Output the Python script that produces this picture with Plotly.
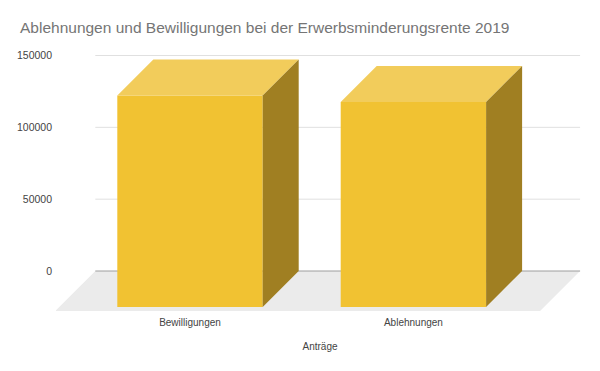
import plotly.graph_objects as go

# ---------------- data ----------------
categories = ["Bewilligungen", "Ablehnungen"]
values = [147300, 142700]
y_tick_values = [0, 50000, 100000, 150000]
y_tick_labels = ["0", "50000", "100000", "150000"]
x_axis_title = "Anträge"
chart_title = "Ablehnungen und Bewilligungen bei der Erwerbsminderungsrente 2019"

# ---------------- layout / style constants (pixels) ----------------
W, H = 600, 371
OFF = 8                                      # page body margin
PL, PR, PT, PB = 56 - OFF, 584 - OFF, 45 - OFF, 313 - OFF   # plot area edges
X0_PX = 190.0 - OFF                          # first category centre (front face)
X_STEP_PX = 223.4                            # distance between categories
Y0_PX = 271.0 - OFF                          # baseline (back) pixel
Y_PX_PER_UNIT = 215.5 / 150000.0
BAR_W_PX = 145.4
DEPTH_PX = 36.0
FLOOR_DEPTH_PX = 40.0
FLOOR_PAD_PX = 58.0

FRONT = "#f1c232"
TOP = "#f2cc5b"
SIDE = "#a07f22"
FLOOR = "#ebebeb"
GRID = "#e0e0e0"
ZERO = "#9e9e9e"
FONT = "Arial, Liberation Sans, sans-serif"

xr = [(PL - X0_PX) / X_STEP_PX, (PR - X0_PX) / X_STEP_PX]
yr = [(Y0_PX - PB) / Y_PX_PER_UNIT, (Y0_PX - PT) / Y_PX_PER_UNIT]

hw = BAR_W_PX / 2 / X_STEP_PX
dx = DEPTH_PX / X_STEP_PX
dy = DEPTH_PX / Y_PX_PER_UNIT
fdx = FLOOR_DEPTH_PX / X_STEP_PX
fdy = FLOOR_DEPTH_PX / Y_PX_PER_UNIT
pad = FLOOR_PAD_PX / X_STEP_PX

fig = go.Figure()

def poly(xs, ys, color, name):
    fig.add_trace(go.Scatter(
        x=xs + [xs[0]], y=ys + [ys[0]], mode="lines", fill="toself",
        fillcolor=color, line=dict(width=0, color=color),
        hoverinfo="skip", showlegend=False, name=name))

for i, (cat, v) in enumerate(zip(categories, values)):
    xl, xrt = i - hw, i + hw
    # front face
    poly([xl, xrt, xrt, xl], [-dy, -dy, v - dy, v - dy], FRONT, cat)
    # top face
    poly([xl, xrt, xrt + dx, xl + dx], [v - dy, v - dy, v, v], TOP, cat)
    # side face
    poly([xrt, xrt + dx, xrt + dx, xrt], [v - dy, v, 0, -dy], SIDE, cat)

n = len(categories)
back_left = 0 - hw + dx - pad
back_right = (n - 1) + hw + dx + pad

shapes = [dict(type="path", xref="x", yref="y", layer="below",
               path=f"M {back_left},0 L {back_right},0 L {back_right - fdx},{-fdy} L {back_left - fdx},{-fdy} Z",
               fillcolor=FLOOR, line=dict(width=0))]
for t in y_tick_values:
    shapes.append(dict(type="line", xref="x", yref="y", layer="below",
                       x0=back_left, x1=back_right, y0=t, y1=t,
                       line=dict(color=ZERO if t == 0 else GRID, width=1)))

fig.update_layout(
    width=W, height=H,
    margin=dict(l=PL, r=W - PR, t=PT, b=H - PB, pad=0),
    paper_bgcolor="white", plot_bgcolor="white",
    shapes=shapes,
    title=dict(text=chart_title, x=(20 - OFF) / W, xanchor="left", xref="container",
               y=1 - (28 - OFF) / H, yanchor="middle", yref="container",
               font=dict(family=FONT, size=15.5, color="#757575")),
    xaxis=dict(range=xr, showgrid=False, zeroline=False, showline=False,
               tickvals=list(range(n)), ticktext=categories, ticks="",
               ticklabelstandoff=2,
               tickfont=dict(family=FONT, size=10, color="#444444"),
               title=dict(text=x_axis_title, standoff=15,
                          font=dict(family=FONT, size=10, color="#444444")),
               automargin=False, fixedrange=True),
    yaxis=dict(range=yr, showgrid=False, zeroline=False, showline=False,
               tickvals=y_tick_values, ticktext=y_tick_labels, ticks="",
               ticklabelstandoff=3,
               tickfont=dict(family=FONT, size=10.5, color="#444444"),
               automargin=False, fixedrange=True),
    showlegend=False,
)

fig.write_html("out.html")
